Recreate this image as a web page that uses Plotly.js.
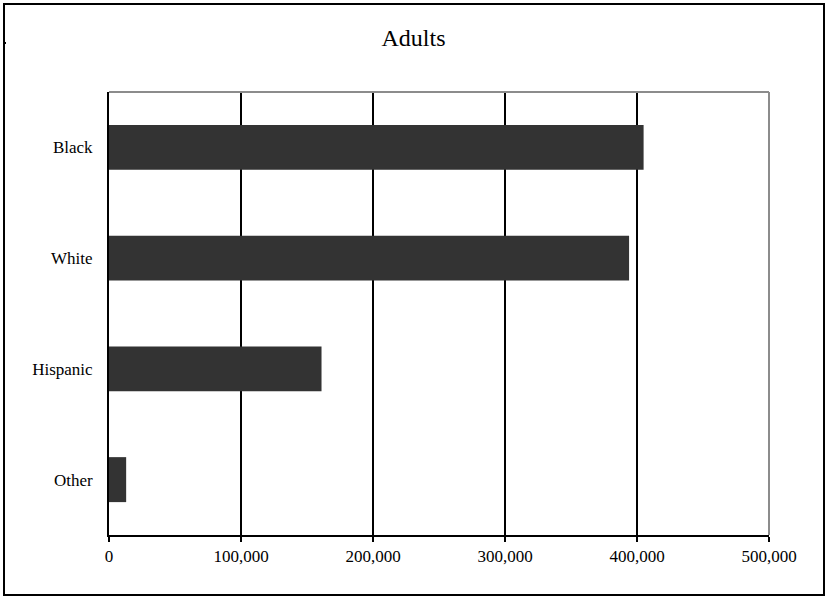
<!DOCTYPE html>
<html>
<head>
<meta charset="utf-8">
<script src="https://cdn.plot.ly/plotly-3.0.1.min.js"></script>
<style>html,body{margin:0;padding:0;background:#fff;}#chart{width:827px;height:598px;}</style>
</head>
<body>
<div id="chart"></div>
<script>
const categories = ["Black", "White", "Hispanic", "Other"];
const adults = [405000, 394000, 161000, 13000];
const xTickValues = [0, 100000, 200000, 300000, 400000, 500000];
const xTickLabels = ["0", "100,000", "200,000", "300,000", "400,000", "500,000"];

const W = 827, H = 598;
const M = {l: 109, r: 58, t: 92, b: 63};
const pw = W - M.l - M.r, ph = H - M.t - M.b;
const px = v => (v - M.l) / pw;
const py = v => (H - M.b - v) / ph;

const font = "Liberation Serif, Times New Roman, serif";

const trace = {
  type: "bar",
  orientation: "h",
  x: adults,
  y: categories,
  marker: {color: "#333333", line: {width: 0}},
  hoverinfo: "none"
};

const layout = {
  width: W, height: H,
  margin: M,
  paper_bgcolor: "#ffffff",
  plot_bgcolor: "#ffffff",
  showlegend: false,
  bargap: 0.594,
  font: {family: font, size: 17, color: "#000"},
  title: {text: "Adults", font: {family: font, size: 24, color: "#000"},
          x: 0.5, xref: "container", xanchor: "center",
          y: 1 - 38 / H, yref: "container", yanchor: "middle"},
  xaxis: {
    range: [0, 500000],
    tickvals: xTickValues, ticktext: xTickLabels,
    showgrid: true, gridcolor: "#000", gridwidth: 2,
    zeroline: false,
    showline: true, linecolor: "#000", linewidth: 2,
    ticks: "outside", ticklen: 5, tickwidth: 2, tickcolor: "#000",
    tickfont: {family: font, size: 17, color: "#000"},
    fixedrange: true
  },
  yaxis: {
    autorange: "reversed",
    showgrid: false, zeroline: false,
    showline: true, linecolor: "#000", linewidth: 2,
    ticks: "", ticklabelstandoff: 11,
    tickfont: {family: font, size: 17, color: "#000"},
    fixedrange: true
  },
  shapes: [
    {type: "line", xref: "paper", yref: "paper", x0: 0, x1: 1, y0: 1, y1: 1,
     line: {color: "#8c8c8c", width: 2}},
    {type: "line", xref: "paper", yref: "paper", x0: 1, x1: 1, y0: 0, y1: 1,
     line: {color: "#8c8c8c", width: 2}},
    {type: "rect", xref: "paper", yref: "paper",
     x0: px(4), x1: px(824), y0: py(595), y1: py(4),
     line: {color: "#000", width: 2}, fillcolor: "rgba(0,0,0,0)"},
    {type: "line", xref: "paper", yref: "paper",
     x0: px(3), x1: px(6), y0: py(43), y1: py(43),
     line: {color: "#000", width: 2}}
  ]
};

Plotly.newPlot("chart", [trace], layout, {displayModeBar: false, staticPlot: true});
</script>
</body>
</html>
